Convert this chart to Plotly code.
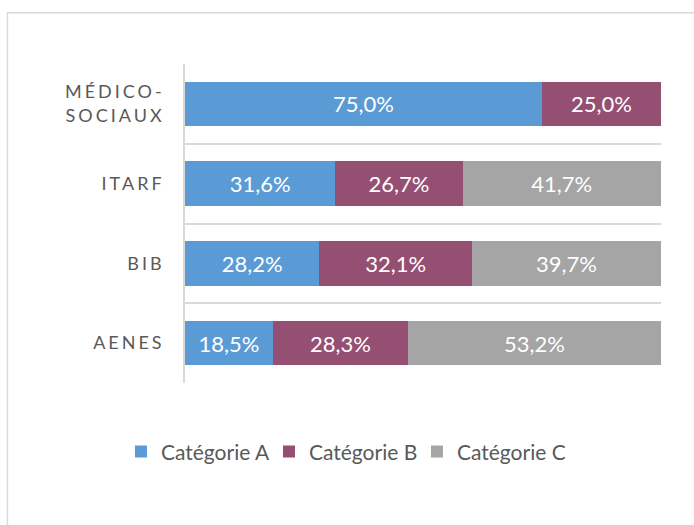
import plotly.graph_objects as go

categories = ["AENES", "BIB", "ITARF", "MÉDICO-<br>SOCIAUX"]
cat_a = [18.5, 28.2, 31.6, 75.0]
cat_b = [28.3, 32.1, 26.7, 25.0]
cat_c = [53.2, 39.7, 41.7, None]
series_names = ["Catégorie A", "Catégorie B", "Catégorie C"]
colors = ["#5B9BD5", "#954F72", "#A5A5A5"]

FONT = "Lato"
fig = go.Figure()
for name, vals, col in zip(series_names, [cat_a, cat_b, cat_c], colors):
    fig.add_trace(go.Bar(
        y=categories, x=vals, name=name, orientation="h",
        marker=dict(color=col, line=dict(width=0)),
        texttemplate="%{x:.1f}%", textposition="inside",
        insidetextanchor="middle",
        textfont=dict(color="white", size=22, family=FONT),
        hoverinfo="skip",
    ))

fig.update_layout(
    barmode="stack",
    bargap=0.44,
    separators=", ",
    width=694, height=525,
    margin=dict(l=185, r=33, t=64, b=142),
    paper_bgcolor="white", plot_bgcolor="white",
    font=dict(family=FONT, color="#595959"),
    showlegend=True,
    legend=dict(orientation="h", x=-0.1345, xanchor="left", y=-0.216, yanchor="middle",
                font=dict(size=21, color="#595959", family=FONT), traceorder="normal",
                itemwidth=30, entrywidth=103),
    xaxis=dict(range=[0, 100], showgrid=False, showticklabels=False, zeroline=False,
               showline=False, ticks=""),
    yaxis=dict(type="category", categoryorder="array", categoryarray=categories,
               tickson="boundaries", showgrid=True, gridcolor="#D9D9D9", gridwidth=1.5,
               showline=True, linecolor="#D9D9D9", linewidth=1.5, ticks="", ticklen=0,
               tickfont=dict(size=18, color="#595959", family=FONT),
               ticklabelstandoff=15, range=[-0.5, 3.5]),
    shapes=[dict(type="rect", xref="paper", yref="paper",
                 x0=-0.373, x1=1.1, y0=-0.5, y1=1.161,
                 line=dict(color="#D9D9D9", width=1.5), fillcolor="rgba(0,0,0,0)",
                 layer="below")],
)

post = """
document.body.style.margin = '0';
document.querySelectorAll('.ytick text').forEach(function(t){ t.style.letterSpacing = '3px'; });
"""
fig.write_html("out.html", post_script=post, config={"displayModeBar": False})
